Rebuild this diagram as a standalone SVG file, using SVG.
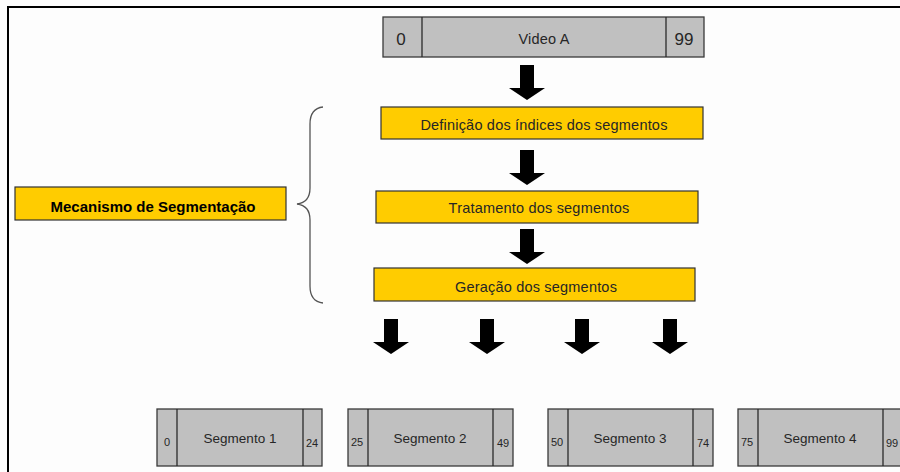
<svg xmlns="http://www.w3.org/2000/svg" width="900" height="472" viewBox="0 0 900 472">
  <style>
    .bg { fill: #fdfdfd; }
    .frame { fill: none; stroke: #000; stroke-width: 2; }
    .media { fill: #c0c0c0; stroke: #3a3a3a; stroke-width: 1.3; }
    .div { stroke: #2a2a2a; stroke-width: 1.3; }
    .step { fill: #ffcc00; stroke: #333; stroke-width: 1.2; }
    .t { font-family: "Liberation Sans", Arial, sans-serif; fill: #262626; text-anchor: middle; }
    .big { font-size: 14.5px; letter-spacing: 0.2px; }
    .idx { font-size: 17px; }
    .seg { font-size: 13.5px; }
    .num { font-size: 11px; }
    .bold { font-weight: bold; fill: #000; letter-spacing: 0; font-size: 15px; }
    .arrow { fill: #000; }
    .brace { fill: none; stroke: #555; stroke-width: 1.3; }
  </style>
  <defs>
    <!-- block arrow pointing down, origin at top centre of the shaft -->
    <polygon id="blockArrow" points="-7,0 7,0 7,23 18,23 0,35 -18,23 -7,23"/>
  </defs>

  <rect class="bg" x="0" y="0" width="900" height="472"/>
  <path class="frame" d="M8,472 V7 H900"/>

  <!-- source video -->
  <g id="video-a">
    <rect class="media" x="383" y="17" width="321" height="40"/>
    <line class="div" x1="422" y1="17" x2="422" y2="57"/>
    <line class="div" x1="666" y1="17" x2="666" y2="57"/>
    <text class="t idx" x="401" y="45">0</text>
    <text class="t big" x="544" y="44">Video A</text>
    <text class="t idx" x="684" y="45">99</text>
  </g>

  <!-- processing steps -->
  <g id="definicao">
    <rect class="step" x="381" y="107" width="322" height="32"/>
    <text class="t big" x="544" y="130">Definição dos índices dos segmentos</text>
  </g>
  <g id="tratamento">
    <rect class="step" x="376" y="191" width="322" height="32"/>
    <text class="t big" x="539" y="213">Tratamento dos segmentos</text>
  </g>
  <g id="geracao">
    <rect class="step" x="374" y="268" width="321" height="33"/>
    <text class="t big" x="536" y="292">Geração dos segmentos</text>
  </g>

  <g id="mecanismo">
    <rect class="step" x="15" y="187" width="271" height="33"/>
    <text class="t bold" x="153" y="212">Mecanismo de Segmentação</text>
  </g>

  <g id="brace">
    <path class="brace" d="M323,107 C314,108 310,114 310,124 V188 C310,198 305,203 297,204 C305,205 310,210 310,220 V286 C310,296 314,302 323,303"/>
  </g>

  <!-- output segments -->
  <g id="segmento-1">
    <rect class="media" x="157" y="409" width="165" height="57"/>
    <line class="div" x1="177" y1="409" x2="177" y2="466"/>
    <line class="div" x1="303" y1="409" x2="303" y2="466"/>
    <text class="t num" x="167" y="446">0</text>
    <text class="t seg" x="240" y="443">Segmento 1</text>
    <text class="t num" x="312" y="447">24</text>
  </g>
  <g id="segmento-2">
    <rect class="media" x="348" y="409" width="165" height="57"/>
    <line class="div" x1="368" y1="409" x2="368" y2="466"/>
    <line class="div" x1="493" y1="409" x2="493" y2="466"/>
    <text class="t num" x="357" y="446">25</text>
    <text class="t seg" x="430" y="443">Segmento 2</text>
    <text class="t num" x="503" y="447">49</text>
  </g>
  <g id="segmento-3">
    <rect class="media" x="548" y="409" width="165" height="57"/>
    <line class="div" x1="568" y1="409" x2="568" y2="466"/>
    <line class="div" x1="693" y1="409" x2="693" y2="466"/>
    <text class="t num" x="557" y="446">50</text>
    <text class="t seg" x="630" y="443">Segmento 3</text>
    <text class="t num" x="703" y="447">74</text>
  </g>
  <g id="segmento-4">
    <rect class="media" x="738" y="409" width="165" height="57"/>
    <line class="div" x1="758" y1="409" x2="758" y2="466"/>
    <line class="div" x1="883" y1="409" x2="883" y2="466"/>
    <text class="t num" x="747" y="446">75</text>
    <text class="t seg" x="820" y="443">Segmento 4</text>
    <text class="t num" x="892" y="447">99</text>
  </g>

  <!-- flow arrows -->
  <g id="connectors" class="arrow">
    <use href="#blockArrow" x="527" y="65"/>
    <use href="#blockArrow" x="527" y="150"/>
    <use href="#blockArrow" x="527" y="229"/>
    <use href="#blockArrow" x="391" y="319"/>
    <use href="#blockArrow" x="487" y="319"/>
    <use href="#blockArrow" x="582" y="319"/>
    <use href="#blockArrow" x="670" y="319"/>
  </g>
</svg>
